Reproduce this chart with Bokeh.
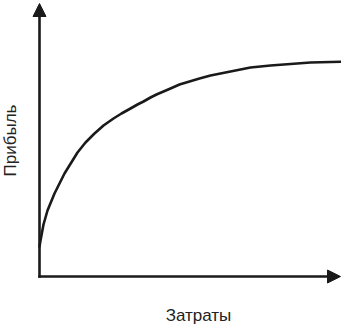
import math
from bokeh.plotting import figure
from bokeh.models import Range1d, Arrow, NormalHead, Label
from bokeh.embed import file_html
from bokeh.resources import INLINE

# Curve (arbitrary units: cost vs. profit)
costs = [0, 1, 4, 8, 15, 25, 38, 46, 55, 64, 74, 82, 91, 98, 104, 111, 117, 124, 131, 140, 150, 160, 171, 191, 211, 231, 271, 310]
profit = [30, 36, 52, 66, 83, 103, 124, 134, 143, 151, 158, 163, 168, 172, 175, 179, 182, 185, 188, 192, 195, 198, 201, 205, 209, 211, 214, 215]

x_label = "Затраты"
y_label = "Прибыль"

p = figure(width=341, height=326, output_backend="svg", toolbar_location=None,
           x_range=Range1d(-39, 302), y_range=Range1d(-50, 276),
           min_border=0, min_border_left=0, min_border_right=0,
           min_border_top=0, min_border_bottom=0)
p.axis.visible = False
p.grid.visible = False
p.outline_line_color = None
p.background_fill_color = "white"
p.border_fill_color = "white"

p.line(costs, profit, line_color="#1a1a1a", line_width=2.6, line_join="round", line_cap="round")

p.add_layout(Arrow(end=NormalHead(size=13, fill_color="#1a1a1a", line_color="#1a1a1a", line_width=1),
                   x_start=0, y_start=-1.2, x_end=0, y_end=273,
                   line_color="#1a1a1a", line_width=2.6))
p.add_layout(Arrow(end=NormalHead(size=13, fill_color="#1a1a1a", line_color="#1a1a1a", line_width=1),
                   x_start=-1.2, y_start=0, x_end=301, y_end=0,
                   line_color="#1a1a1a", line_width=2.6))

p.add_layout(Label(x=159, y=-39, text=x_label, text_align="center", text_baseline="middle",
                   text_font="Liberation Sans", text_font_size="17px", text_color="#222222"))
p.add_layout(Label(x=-29, y=136, text=y_label, text_align="center", text_baseline="middle",
                   angle=math.pi / 2, text_font="Liberation Sans", text_font_size="17px",
                   text_color="#222222"))

open("out.html", "w").write(file_html(p, INLINE))
